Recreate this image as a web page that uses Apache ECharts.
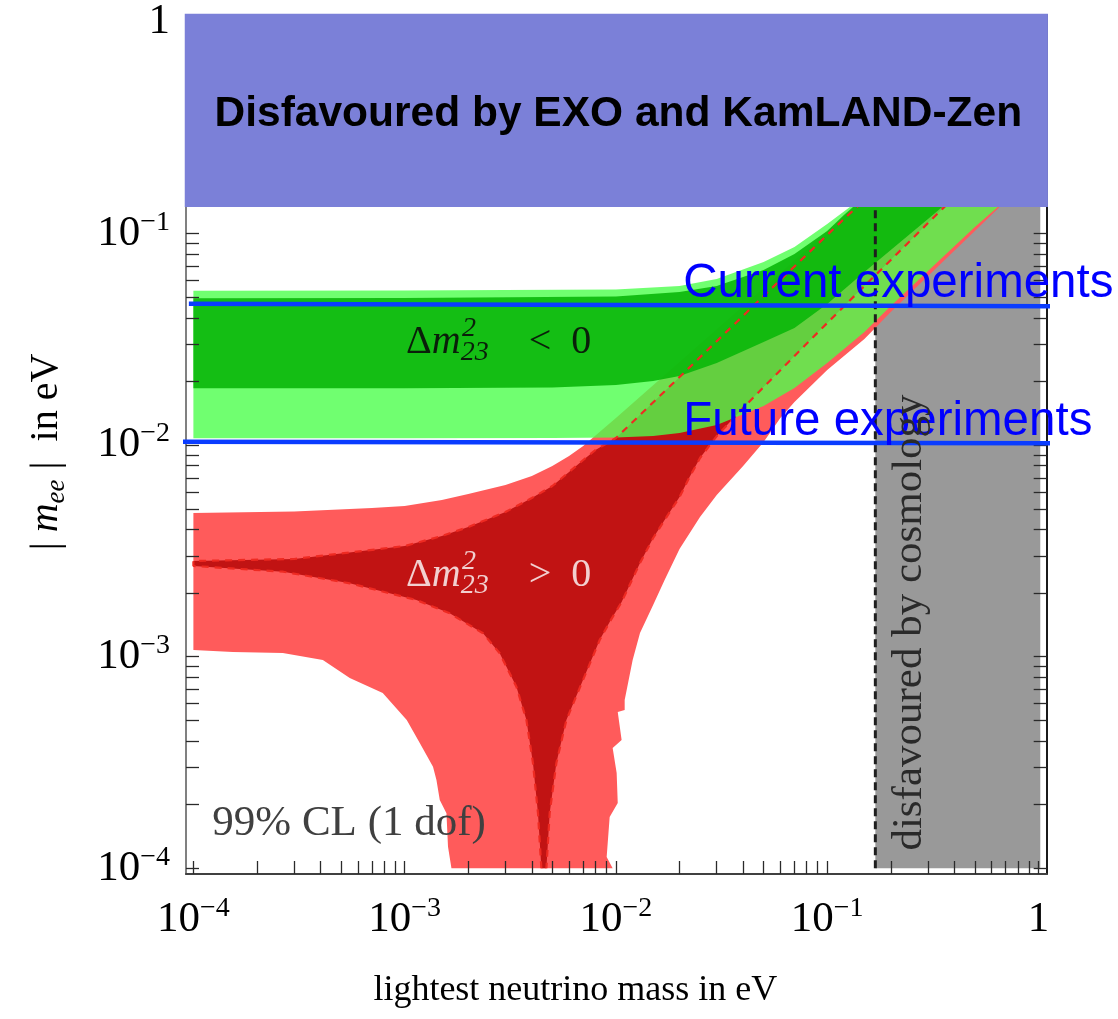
<!DOCTYPE html>
<html>
<head>
<meta charset="utf-8">
<title>Effective Majorana mass vs lightest neutrino mass</title>
<script src="https://cdn.jsdelivr.net/npm/echarts@6.0.0/dist/echarts.min.js"></script>
<style>
  html, body { margin: 0; padding: 0; background: #ffffff; }
  #chart { width: 1118px; height: 1019px; }
</style>
</head>
<body>
<div id="chart"></div>
<script>
// |m_ee| versus the lightest neutrino mass (both in eV) on log-log axes.
// Every band is given as [m_lightest, |m_ee|] points along its edges.

// Inverted ordering (Δm²23 < 0): 99% CL outer band and inner band
const ihOuterUpper = [[1e-4, 0.0537], [1e-3, 0.0538], [3e-3, 0.0541], [1e-2, 0.0544], [2e-2, 0.0565],
  [3e-2, 0.0610], [5e-2, 0.0733], [7e-2, 0.0864], [0.1, 0.111], [0.13, 0.135], [0.2, 0.207]];
const ihOuterLower = [[1e-4, 0.01077], [1e-3, 0.01077], [5e-3, 0.0108], [1e-2, 0.01086], [1.5e-2, 0.01104],
  [2e-2, 0.01141], [3e-2, 0.01245], [5e-2, 0.0153], [7e-2, 0.01863], [0.1, 0.02443], [0.15, 0.03423],
  [0.2, 0.0454], [0.3, 0.0665], [0.5, 0.1073], [0.7, 0.144]];
const ihInnerUpper = [[1e-4, 0.0494], [1e-3, 0.0496], [1e-2, 0.0504], [2e-2, 0.0529], [3e-2, 0.0565],
  [5e-2, 0.0672], [7e-2, 0.0800], [0.1, 0.1028], [0.12, 0.1223], [0.15, 0.1487]];
const ihInnerLower = [[1e-4, 0.01855], [1e-3, 0.01855], [5e-3, 0.01872], [1e-2, 0.01923], [1.5e-2, 0.02009],
  [2e-2, 0.02121], [3e-2, 0.02443], [5e-2, 0.0307], [7e-2, 0.0358], [0.1, 0.0464], [0.15, 0.0658],
  [0.2, 0.0836], [0.3, 0.1171], [0.35, 0.1334], [0.4, 0.1503]];

// Normal ordering (Δm²23 > 0): 99% CL outer band
const nhOuterUpper = [[1e-4, 4.777e-3], [3e-4, 4.856e-3], [7e-4, 5.043e-3], [1e-3, 5.155e-3], [1.5e-3, 5.503e-3],
  [2e-3, 5.873e-3], [3e-3, 6.478e-3], [4e-3, 7.145e-3], [5e-3, 7.963e-3], [6e-3, 8.882e-3], [7e-3, 9.90e-3],
  [1e-2, 0.01343], [2e-2, 0.0247], [5e-2, 0.0553], [0.1, 0.1028], [0.13, 0.1291], [0.14, 0.1456], [1.0, 0.2]];
const nhOuterRight = [[0.7, 0.1424], [0.5, 0.1028], [0.3, 0.0630], [0.2, 0.04256], [0.15, 0.03172],
  [0.1, 0.02265], [0.08, 0.01821], [0.07, 0.01598], [0.06, 0.01343], [0.05, 0.01034], [0.04, 0.00796],
  [0.03, 0.00581], [0.025, 0.004574], [0.02, 0.003228], [0.017, 0.002304], [0.015, 0.001755],
  [0.013, 0.001294], [0.012, 0.000965], [0.011, 0.000624], [0.011, 0.00056], [0.0102, 0.000548],
  [0.01064, 0.000404], [0.00965, 0.00037], [0.01008, 0.000282], [0.0102, 0.0002035], [0.00934, 0.0001747],
  [0.00904, 0.0001131], [0.00965, 1e-4]];
const nhOuterLeft = [[1.665e-3, 1e-4], [1.604e-3, 1.265e-4], [1.577e-3, 1.82e-4], [1.466e-3, 2.102e-4],
  [1.414e-3, 2.614e-4], [1.362e-3, 3.022e-4], [1.179e-3, 3.91e-4], [1.023e-3, 5.022e-4], [7.876e-4, 6.736e-4],
  [5.497e-4, 7.93e-4], [4.10e-4, 9.65e-4], [2.651e-4, 1.041e-3], [1.538e-4, 1.052e-3], [1e-4, 1.076e-3]];

// Normal ordering: inner band
const nhInnerUpper = [[1e-4, 2.834e-3], [3e-4, 2.896e-3], [1e-3, 3.336e-3], [1.5e-3, 3.719e-3], [2e-3, 4.102e-3],
  [3e-3, 4.829e-3], [4e-3, 5.623e-3], [5e-3, 6.408e-3], [6e-3, 7.464e-3], [7e-3, 8.505e-3], [8e-3, 9.482e-3],
  [1e-2, 0.0108], [2e-2, 0.02098], [5e-2, 0.05065], [0.1, 0.0984], [0.12, 0.1171], [0.15, 0.144],
  [0.17, 0.163], [0.45, 0.167]];
const nhInnerRight = [[0.4, 0.1487], [0.35, 0.1305], [0.3, 0.1121], [0.2, 0.0750], [0.15, 0.0565],
  [0.1, 0.03776], [0.07, 0.02637], [0.05, 0.01882], [0.04, 0.01497], [0.03, 0.01104], [0.025, 8.69e-3],
  [0.02232, 7.067e-3], [0.02, 5.684e-3], [0.017, 4.426e-3], [0.015, 3.639e-3], [0.013, 2.772e-3],
  [0.01161, 2.182e-3], [0.01064, 1.814e-3], [0.00934, 1.459e-3], [8.375e-3, 1.199e-3], [6.982e-3, 7.76e-4],
  [5.827e-3, 5.022e-4], [5.225e-3, 3.145e-4], [4.858e-3, 1.825e-4], [4.687e-3, 1e-4]];
const nhInnerLeft = [[4.437e-3, 1e-4], [4.276e-3, 1.82e-4], [4.05e-3, 3.135e-4], [3.77e-3, 5.022e-4],
  [3.38e-3, 7.214e-4], [2.818e-3, 1.038e-3], [2.349e-3, 1.29e-3], [1.634e-3, 1.604e-3], [1.137e-3, 1.853e-3],
  [5.497e-4, 2.223e-3], [2.66e-4, 2.522e-3], [1e-4, 2.684e-3]];

// Experimental reach on |m_ee| (eV), drawn across the whole plot
const currentReach = [[9.52e-5, 0.0466], [2.36, 0.0453]];
const futureReach = [[8.92e-5, 0.01038], [2.36, 0.01019]];

// Disfavoured regions
const exoKamlandLimit = 0.1353;        // |m_ee| above this value
const cosmologyRange = [0.169, 1.02];  // lightest mass range

// Decade labels on both axes (log10 of eV)
const xDecades = [-4, -3, -2, -1, 0];
const yDecades = [-4, -3, -2, -1, 0];

// ---------------------------------------------------------------------------
const LOG = Math.log10;
const toLog = pts => pts.map(p => [LOG(p[0]), LOG(p[1])]);

// frame edges of the plot, in decades
const FRAME_X = [-4.035, 0.039];
const FRAME_Y = [-4.027, 0.033];

const SERIF = '"Liberation Serif", "Times New Roman", serif';
const SANS = '"Liberation Sans", Arial, sans-serif';
const BOX_BLUE = '#7b80d8';

// logarithmic tick marks: 1..9 in every decade
const tickPositions = [-4, -3, -2, -1]
  .flatMap(d => [1, 2, 3, 4, 5, 6, 7, 8, 9].map(k => d + LOG(k)))
  .concat([0]);

const powerLabel = v => {
  const e = Math.round(v);
  return e === 0 ? '{b|1}' : '{b|10}{s|\u2212' + (-e) + '}';
};
const tickRich = {
  b: { fontFamily: SERIF, fontSize: 43, lineHeight: 50, color: '#000' },
  s: { fontFamily: SERIF, fontSize: 28, lineHeight: 25, verticalAlign: 'top', color: '#000' }
};

const frameAxis = extra => Object.assign({
  type: 'value',
  z: 5,
  splitLine: { show: false },
  axisLine: { show: true, onZero: false, lineStyle: { color: '#404040', width: 2 } },
  axisTick: { show: true, inside: true, length: 13, customValues: tickPositions,
              lineStyle: { color: '#2a2a2a', width: 1.3 } },
  axisLabel: { show: false }
}, extra);

// filled band drawn as one polygon through the axis scales
function band(name, pts, color, opacity, z) {
  const logPts = toLog(pts);
  return {
    type: 'custom', name, coordinateSystem: 'cartesian2d', clip: true, silent: true, z,
    data: [logPts[0]],
    renderItem: (params, api) => ({
      type: 'polygon',
      shape: { points: logPts.map(p => api.coord(p)) },
      style: { fill: color, opacity }
    })
  };
}

function path(name, pts, lineStyle, z, clip) {
  return {
    type: 'line', name, data: toLog(pts), symbol: 'none', showSymbol: false,
    lineStyle, z, clip, silent: true
  };
}

// text placed at a data position
function note(at, label) {
  return {
    type: 'scatter', data: [[LOG(at[0]), LOG(at[1])]], symbolSize: 1, z: 10, silent: true,
    itemStyle: { color: 'transparent', opacity: 1 },
    label: Object.assign({ show: true, position: 'right', distance: 0, opacity: 1 }, label)
  };
}

const deltaRich = color => ({
  d: { fontFamily: SERIF, fontSize: 40, lineHeight: 48, color },
  m: { fontFamily: SERIF, fontStyle: 'italic', fontSize: 40, lineHeight: 48, color },
  s: { fontFamily: SERIF, fontStyle: 'italic', fontSize: 28, lineHeight: 28, verticalAlign: 'bottom', color }
});

const ihOuter = ihOuterUpper.concat(ihOuterLower.slice().reverse());
const ihInner = ihInnerUpper.concat(ihInnerLower.slice().reverse());
const nhOuter = nhOuterUpper.concat(nhOuterRight, nhOuterLeft);
const nhInner = nhInnerUpper.concat(nhInnerRight, nhInnerLeft);

const redDash = { type: [7, 6], color: '#ee2a22', width: 2.2 };

const chart = echarts.init(document.getElementById('chart'), null, { renderer: 'canvas' });
chart.setOption({
  animation: false,
  backgroundColor: '#ffffff',
  grid: { left: 186, right: 71.3, top: 15, bottom: 145, containLabel: false },
  xAxis: [
    frameAxis({
      position: 'bottom', min: FRAME_X[0], max: FRAME_X[1],
      axisLine: { show: true, onZero: false, lineStyle: { color: '#404040', width: 2 } },
      axisLabel: { show: true, customValues: xDecades, formatter: powerLabel, rich: tickRich, margin: 21 },
      name: 'lightest neutrino mass in eV',
      nameLocation: 'middle', nameGap: 117,
      nameTextStyle: { fontFamily: SERIF, fontSize: 36, color: '#000', verticalAlign: 'middle',
                       padding: [0, 82, 0, 0] }
    }),
    frameAxis({ position: 'top', min: FRAME_X[0], max: FRAME_X[1],
      axisLine: { show: false } })
  ],
  yAxis: [
    frameAxis({
      position: 'left', min: FRAME_Y[0], max: FRAME_Y[1],
      axisLine: { show: true, onZero: false, lineStyle: { color: '#808080', width: 2 } },
      axisLabel: { show: true, customValues: yDecades, formatter: powerLabel, rich: tickRich, margin: 16 },
      name: '{b|| }{i|m}{s|ee}{b| |  in eV}',
      nameLocation: 'middle', nameRotate: 90, nameGap: 140,
      nameTextStyle: {
        verticalAlign: 'middle', padding: [0, 15, 0, 0],
        rich: {
          b: { fontFamily: SERIF, fontSize: 40, lineHeight: 48, color: '#000' },
          i: { fontFamily: SERIF, fontStyle: 'italic', fontSize: 40, lineHeight: 48, color: '#000' },
          s: { fontFamily: SERIF, fontStyle: 'italic', fontSize: 27, lineHeight: 30, verticalAlign: 'bottom', color: '#000' }
        }
      }
    }),
    frameAxis({ position: 'right', min: FRAME_Y[0], max: FRAME_Y[1],
      axisLine: { show: true, onZero: false, lineStyle: { color: '#1a1a1a', width: 2 } } })
  ],
  series: [
    // region disfavoured by cosmology
    {
      type: 'custom', name: 'cosmology', coordinateSystem: 'cartesian2d', clip: true, silent: true, z: 1,
      data: [[LOG(cosmologyRange[0]), yDecades[0]]],
      renderItem: (params, api) => {
        const a = api.coord([LOG(cosmologyRange[0]), yDecades[0]]);
        const b = api.coord([LOG(cosmologyRange[1]), FRAME_Y[1]]);
        return { type: 'rect', shape: { x: a[0], y: b[1], width: b[0] - a[0], height: a[1] - b[1] },
                 style: { fill: '#999999' } };
      }
    },
    band('NH outer', nhOuter, '#ff5b5b', 1, 2),
    band('NH inner', nhInner, '#c11313', 1, 2),
    band('IH outer', ihOuter, '#4cff4c', 0.8, 3),
    band('IH inner', ihInner, '#0ab70a', 0.9, 3),
    path('NH inner edge', nhInnerLeft.concat(nhInnerUpper), redDash, 4, true),
    path('NH inner edge 2', [nhInnerUpper[nhInnerUpper.length - 1]].concat(nhInnerRight), redDash, 4, true),
    path('cosmology bound', [[cosmologyRange[0], 1e-4], [cosmologyRange[0], exoKamlandLimit]],
         { type: [8, 5], color: '#1e1e1e', width: 3 }, 4, true),
    path('current', currentReach, { color: '#0a3cff', width: 4.5 }, 6, false),
    path('future', futureReach, { color: '#0a3cff', width: 4.5 }, 6, false),
    // |m_ee| region disfavoured by EXO and KamLAND-Zen
    {
      type: 'custom', name: 'EXO KamLAND-Zen', coordinateSystem: 'cartesian2d', clip: false, silent: true, z: 8,
      data: [[FRAME_X[0], LOG(exoKamlandLimit)]],
      renderItem: (params, api) => {
        const a = api.coord([FRAME_X[0], LOG(exoKamlandLimit)]);
        const b = api.coord([FRAME_X[1], FRAME_Y[1]]);
        return {
          type: 'group',
          children: [
            { type: 'rect', shape: { x: a[0], y: b[1], width: b[0] - a[0], height: a[1] - b[1] },
              style: { fill: BOX_BLUE, stroke: BOX_BLUE, lineWidth: 2.5 } },
            { type: 'text', x: (a[0] + b[0]) / 2 + 2, y: (a[1] + b[1]) / 2 + 4,
              style: { text: 'Disfavoured by EXO and KamLAND-Zen', fill: '#000000',
                       font: 'bold 42.5px ' + SANS, align: 'center', verticalAlign: 'middle' } }
          ]
        };
      }
    },
    note([0.0207, 0.0460], { offset: [0, -21], formatter: 'Current experiments',
      fontFamily: SANS, fontSize: 47.5, color: '#0000ff' }),
    note([0.0207, 0.01029], { offset: [0, -21], formatter: 'Future experiments',
      fontFamily: SANS, fontSize: 47.5, color: '#0000ff' }),
    note([0.00101, 0.0305], { formatter: '{d|\u0394}{m|m}{s|23}{d|    <  0}', rich: deltaRich('#0a1f0a') }),
    note([0.00101, 0.0305], { offset: [56, -14], formatter: '2',
      fontFamily: SERIF, fontStyle: 'italic', fontSize: 28, color: '#0a1f0a' }),
    note([0.00101, 0.002412], { formatter: '{d|\u0394}{m|m}{s|23}{d|    >  0}', rich: deltaRich('#f2d0d0') }),
    note([0.00101, 0.002412], { offset: [56, -14], formatter: '2',
      fontFamily: SERIF, fontStyle: 'italic', fontSize: 28, color: '#f2d0d0' }),
    note([1.223e-4, 1.628e-4], { formatter: '99% CL (1 dof)', fontFamily: SERIF, fontSize: 43, color: '#404040' }),
    note([0.2464, 1.451e-3], { position: 'inside', rotate: 90, formatter: 'disfavoured by cosmology',
      fontFamily: SERIF, fontSize: 43, color: '#2a2a2a' })
  ]
});
</script>
</body>
</html>
